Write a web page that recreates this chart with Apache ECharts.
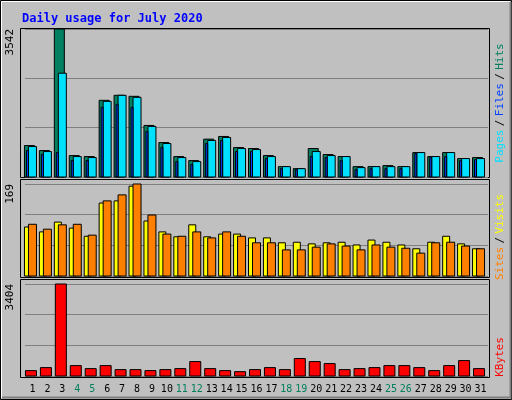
<!DOCTYPE html>
<html><head><meta charset="utf-8">
<script src="https://cdn.jsdelivr.net/npm/echarts@6/dist/echarts.min.js"></script>
<style>html,body{margin:0;padding:0;background:#c0c0c0}#c{width:512px;height:400px}</style>
</head><body><div id="c"></div>
<script>
const days = Array.from({length:31},(_, i)=>String(i+1));
const weekend = ['4','5','11','12','18','19','25','26'];
const hits  = [753,633,3542,513,489,1835,1955,1931,1234,825,489,393,906,970,705,681,513,248,200,681,537,489,248,248,272,248,585,489,585,441,465];
const files = [729,609,2484,489,465,1811,1955,1907,1210,801,465,369,874,946,681,657,489,248,200,609,513,489,224,248,248,248,585,489,585,441,441];
const pages = [633,537,585,393,393,1667,1739,1667,1090,705,369,297,801,874,609,609,441,200,176,489,465,393,176,200,200,200,561,465,489,393,417];
const sites = [90,81,99,88,73,134,138,165,101,81,72,94,72,77,77,70,70,61,62,59,61,62,57,66,62,57,50,62,73,59,50];
const visits= [95,86,94,95,75,138,149,169,112,77,73,81,70,81,73,61,61,48,48,53,59,55,48,57,53,51,42,61,62,55,50];
const kbytes= [199,311,3404,385,273,385,236,236,199,236,273,534,273,199,161,236,311,236,646,534,460,236,273,311,385,385,311,199,385,571,273];
const maxTop=3542, maxMid=169, maxBot=3404;

const chart = echarts.init(document.getElementById('c'));
function bar(data, xi, color, x0, x1, z){
  return {type:'custom', xAxisIndex:xi, yAxisIndex:xi, z:z, data:data.map((v,i)=>[i,v]),
    renderItem:(p,api)=>{
      const top=api.coord([api.value(0),api.value(1)]);
      const base=api.coord([api.value(0),0]);
      return {type:'rect', shape:{x:top[0]+x0, y:top[1], width:x1-x0, height:base[1]-top[1]},
        style:{fill:color, stroke:'#000', lineWidth:1}};
    }};
}
const grids=[{top:29,height:148},{top:184,height:92},{top:284,height:92}];
const maxes=[maxTop,maxMid,maxBot];
chart.setOption({
  backgroundColor:'#c0c0c0',
  animation:false,
  title:{text:'Daily usage for July 2020', left:17, top:8,
    textStyle:{color:'#0000ff', fontFamily:'DejaVu Sans Mono', fontWeight:'bold', fontSize:12}},
  grid:grids.map(g=>({left:25,right:24,top:g.top,height:g.height,show:false})),
  xAxis:[0,1,2].map(i=>({type:'category', gridIndex:i, data:days, boundaryGap:true,
    axisLine:{show:false}, axisTick:{show:false}, splitLine:{show:false},
    axisLabel:{show:i===2, interval:0, margin:8, fontFamily:'DejaVu Sans Mono', fontSize:10,
      color:(v)=>weekend.includes(v)?'#00805c':'#000'}})),
  yAxis:[0,1,2].map(i=>({type:'value', gridIndex:i, min:0, max:maxes[i], interval:maxes[i]/3,
    axisLine:{show:false}, axisTick:{show:false},
    splitLine:{show:true, lineStyle:{color:'#808080', width:1}},
    axisLabel:{rotate:90, margin:9, fontFamily:'DejaVu Sans Mono', fontSize:11, color:'#000',
      verticalAlign:'bottom', align:'right',
      formatter:(v)=>Math.round(v)===maxes[i]?String(maxes[i]):''}})),
  series:[
    bar(hits,0,'#008060',-8,2,2),
    bar(files,0,'#00e0ff',-4,4,3),
    bar(pages,0,'#0040ff',-6,-4,4),
    bar(sites,1,'#ffff00',-8,-1,2),
    bar(visits,1,'#ff8000',-4,4,3),
    bar(kbytes,2,'#ff0000',-7,4,2)
  ],
  graphic:[
    {type:'rect', shape:{x:0.5,y:0.5,width:511,height:399}, style:{fill:null, stroke:'#000'}, z:-1},
    {type:'polyline', shape:{points:[[1.5,398],[1.5,1.5],[510,1.5]]}, style:{stroke:'#fff',fill:null}},
    {type:'polyline', shape:{points:[[2,397.5],[510.5,397.5],[510.5,2]]}, style:{stroke:'#808080',fill:null,lineWidth:2}},
    {type:'rect', shape:{x:20.5,y:28.5,width:469,height:149}, style:{fill:null, stroke:'#000'}},
    {type:'rect', shape:{x:20.5,y:179.5,width:469,height:98}, style:{fill:null, stroke:'#000'}},
    {type:'rect', shape:{x:20.5,y:279.5,width:469,height:98}, style:{fill:null, stroke:'#000'}},
    {type:'text', x:500, y:103, rotation:-Math.PI/2, style:{text:'{a|Pages} {s|/} {b|Files} {s|/} {c|Hits}', align:'center', verticalAlign:'middle',
      rich:{a:{fill:'#00e0ff',font:'11px DejaVu Sans Mono'},b:{fill:'#0040ff',font:'11px DejaVu Sans Mono'},c:{fill:'#008060',font:'11px DejaVu Sans Mono'},s:{fill:'#000',font:'11px DejaVu Sans Mono'}}}},
    {type:'text', x:500, y:237, rotation:-Math.PI/2, style:{text:'{a|Sites} {s|/} {b|Visits}', align:'center', verticalAlign:'middle',
      rich:{a:{fill:'#ff8000',font:'11px DejaVu Sans Mono'},b:{fill:'#ffff00',font:'11px DejaVu Sans Mono'},s:{fill:'#000',font:'11px DejaVu Sans Mono'}}}},
    {type:'text', x:500, y:357, rotation:-Math.PI/2, style:{text:'KBytes', fill:'#ff0000', font:'11px DejaVu Sans Mono', align:'center', verticalAlign:'middle'}}
  ].map(g=>g.type==='text'?Object.assign(g,{rotation:Math.PI/2}):g)
});
</script></body></html>
